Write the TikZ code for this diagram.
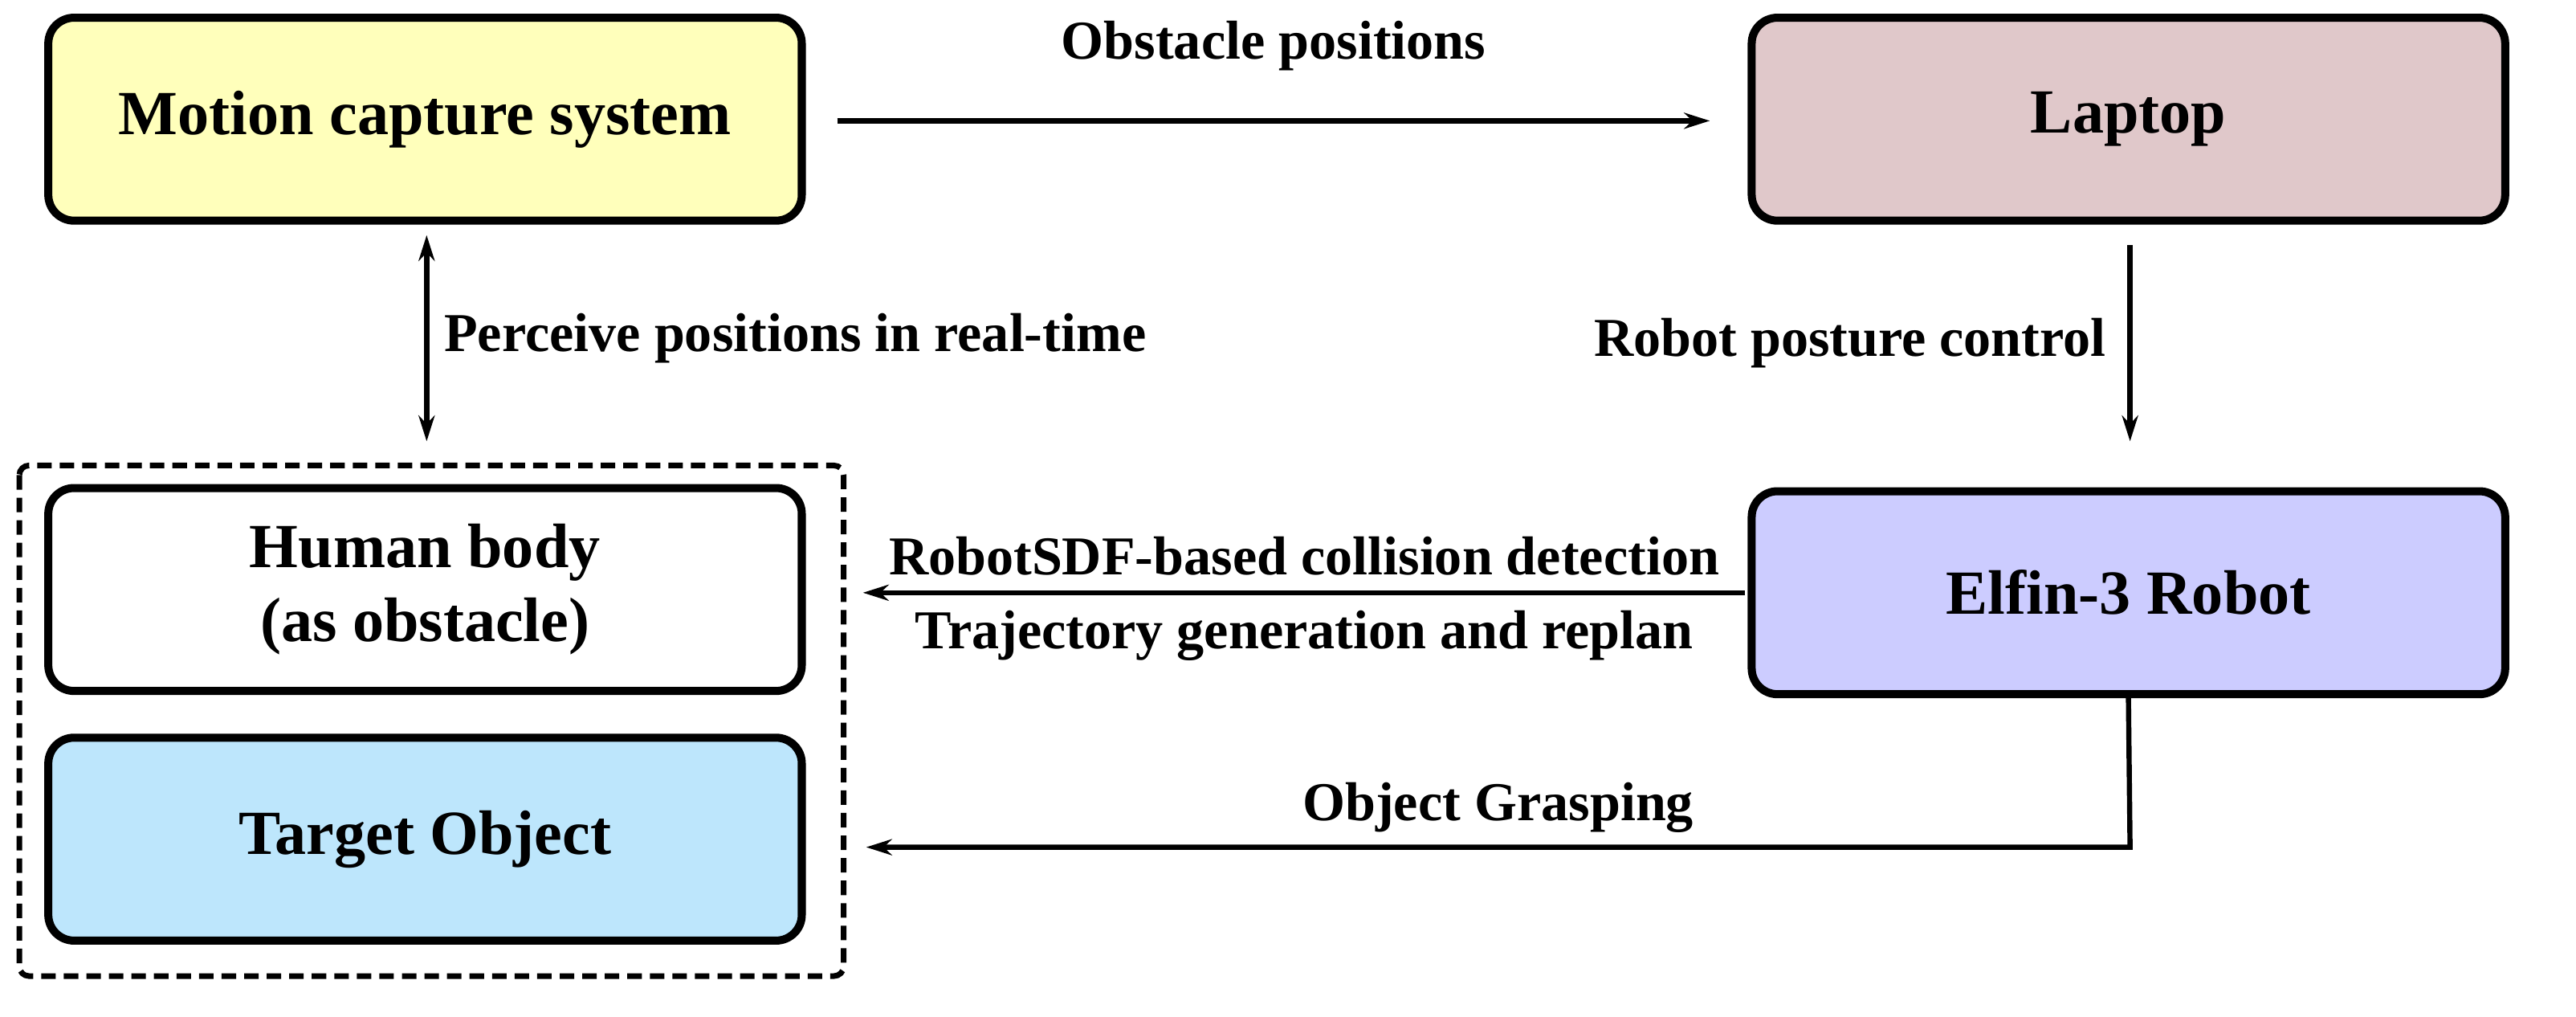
\documentclass[tikz,border=0pt]{standalone}
\usepackage{fontspec}
\setmainfont{Liberation Serif}
\usetikzlibrary{arrows.meta}
\begin{document}
\begin{tikzpicture}[x=1pt,y=-1pt,
 box/.style={draw,line width=5pt,rounded corners=16pt,minimum width=468pt,minimum height=126pt,align=center,font=\fontsize{39}{46}\selectfont\bfseries},
 lab/.style={font=\fontsize{34}{40}\selectfont\bfseries},
 tip/.style={Stealth[length=16pt,width=10pt]},
 arr/.style={line width=3.2pt,-{Stealth[length=16pt,width=10pt]}}]
\useasboundingbox (0,0) rectangle (1600,631);
\definecolor{cy}{HTML}{FFFFBB}
\definecolor{cl}{HTML}{E0C8CA}
\definecolor{ce}{HTML}{CCCCFF}
\definecolor{ct}{HTML}{BDE6FC}
\node[box,fill=cy] (mc) at (264,74) {Motion capture system};
\node[box,fill=cl] (lt) at (1322,74) {Laptop};
\node[box,fill=ce] (el) at (1322,368) {Elfin-3 Robot};
\node[box,fill=white] (hb) at (264,366) {Human body\\(as obstacle)};
\node[box,fill=ct] (to) at (264,521) {Target Object};
\draw[line width=3.5pt,dash pattern=on 9pt off 5pt,rounded corners=6pt] (12,289) rectangle (524,606);
\coordinate (ga) at (520,75);
\coordinate (gb) at (1062,75);
\draw[arr] (ga) -- (gb) node[midway,above=26pt,lab] {Obstacle positions};
\coordinate (pa) at (265,146);
\coordinate (pb) at (265,274);
\draw[arr,{Stealth[length=16pt,width=10pt]}-{Stealth[length=16pt,width=10pt]}] (pa) -- (pb) node[midway,right=6pt,lab] {Perceive positions in real-time};
\coordinate (la) at (1323,152);
\coordinate (lb) at (1323,274);
\draw[arr] (la) -- (lb) node[midway,left=10pt,lab] {Robot posture control};
\coordinate (ea) at (1084,368);
\coordinate (eb) at (536,368);
\draw[arr] (ea) -- (eb) node[midway,above=6pt,lab] {RobotSDF-based collision detection}
 node[midway,below=6pt,lab] {Trajectory generation and replan};
\coordinate (oc) at (1323,526);
\coordinate (ob) at (538,526);
\draw[arr] (el.south) -- (oc) -- (ob) node[midway,above=4pt,lab] {Object Grasping};
\end{tikzpicture}
\end{document}
